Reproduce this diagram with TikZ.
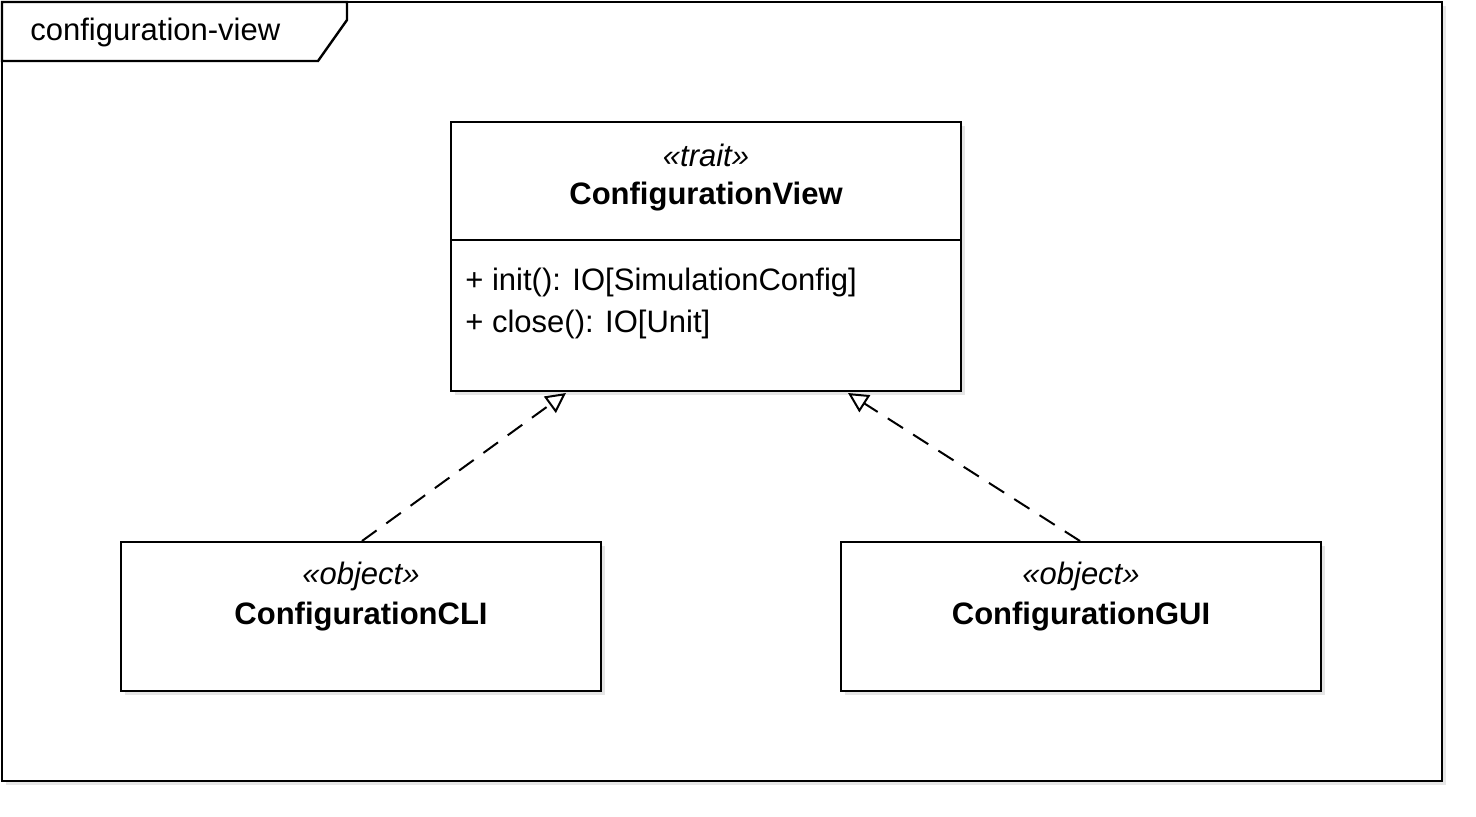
\documentclass[tikz,border=0pt]{standalone}
\usepackage{fontspec}
\setmainfont{Liberation Sans}
\usetikzlibrary{shadows,arrows.meta}
\begin{document}
\begin{tikzpicture}[x=0.5pt,y=-0.5pt,
  box/.style={draw,line width=1.2pt,fill=white,drop shadow={opacity=0.2,shadow xshift=2pt,shadow yshift=-2pt}},
  txt/.style={font=\fontsize{15.5}{18}\selectfont,inner sep=0pt},
  real/.style={draw,line width=1pt,dash pattern=on 9pt off 6pt,-{Triangle[open,length=10pt,width=10pt]}}]
\useasboundingbox (0,0) rectangle (1476,816);
\path[box] (2,2) rectangle (1442,781);
\draw[line width=1.2pt,fill=white] (2,2) -- (347,2) -- (347,20) -- (318,61) -- (2,61) -- cycle;
\node[txt,anchor=west] (title) at (30,32) {configuration-view};
% ConfigurationView
\path[box] (451,122) rectangle (961,391);
\coordinate (cvtop) at (706,122);
\draw[line width=1.2pt] (451,240) -- (961,240);
\node[txt] (cvs) at (706,155) {\itshape <<trait>>};
\node[txt] (cvn) at (706,197) {\bfseries ConfigurationView};
\node[txt,anchor=west] (m1) at (465,282) {+ init(): IO[SimulationConfig]};
\node[txt,anchor=west] (m2) at (465,324) {+ close(): IO[Unit]};
\coordinate (cvL) at (566,393);
\coordinate (cvR) at (848,393);
% CLI
\path[box] (121,542) rectangle (601,691);
\node[txt] (clis) at (361,576) {\itshape <<object>>};
\node[txt] (clin) at (361,617) {\bfseries ConfigurationCLI};
\coordinate (cliT) at (362,541);
% GUI
\path[box] (841,542) rectangle (1321,691);
\node[txt] (guis) at (1081,576) {\itshape <<object>>};
\node[txt] (guin) at (1081,617) {\bfseries ConfigurationGUI};
\coordinate (guiT) at (1080,541);
\draw[real] (cliT) -- (cvL);
\draw[real] (guiT) -- (cvR);
\end{tikzpicture}
\end{document}
